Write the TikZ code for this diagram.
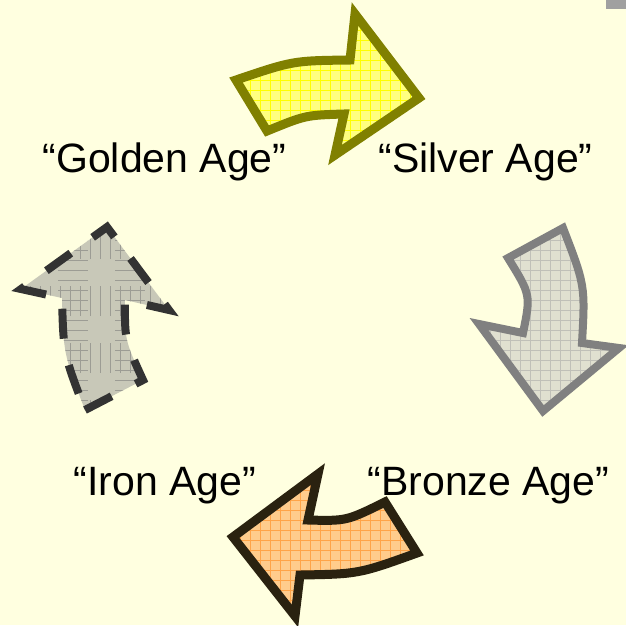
\documentclass[tikz,border=0pt]{standalone}
\usepackage{fontspec}
\setmainfont{Liberation Sans}
\definecolor{bgc}{HTML}{FFFFE0}
\definecolor{yfill}{HTML}{FFFF80}
\definecolor{ygrid}{HTML}{FFFF00}
\definecolor{ystroke}{HTML}{808000}
\definecolor{gfill}{HTML}{E0E0D0}
\definecolor{ggrid}{HTML}{C0C0B8}
\definecolor{gstroke}{HTML}{808080}
\definecolor{ofill}{HTML}{FFCC8C}
\definecolor{ogrid}{HTML}{FFA448}
\definecolor{ostroke}{HTML}{2A2210}
\definecolor{dfill}{HTML}{C8C8B8}
\definecolor{dgrid}{HTML}{9C9C94}
\definecolor{dstroke}{HTML}{333333}
\definecolor{corner}{HTML}{A0A0A0}
\tikzset{
  lbl/.style={font=\fontsize{41}{48}\selectfont, inner sep=0pt, anchor=base, text=black},
  cyclearrow/.style={line width=9pt, line join=miter, miter limit=10},
  gridfill/.style={path picture={\draw[line width=0.8pt,#1]
      ([shift={(-20pt,-20pt)}]path picture bounding box.south west) grid[step=10pt]
      ([shift={(20pt,20pt)}]path picture bounding box.north east);}}
}
\begin{document}
\begin{tikzpicture}[x=1pt,y=-1pt]
\useasboundingbox[fill=bgc] (0,0) rectangle (626,625);
\fill[corner] (606,0) rectangle (626,9);
% yellow arrow
\path[cyclearrow, fill=yfill, draw=ystroke, gridfill=ygrid]
  (236,80) .. controls (293,60.7) .. (350,60) -- (355,14) -- (419,98) -- (335,155)
  -- (344,114) .. controls (305.5,115.2) .. (267,131) -- cycle;
% gray arrow
\path[cyclearrow, line width=8pt, fill=gfill, draw=gstroke, gridfill=ggrid]
  (563,228) .. controls (585.2,285.5) .. (582,343) -- (619,348) -- (543,411) -- (479,324)
  -- (523,333) .. controls (530.8,294.8) .. (508,258) -- cycle;
% orange arrow
\path[cyclearrow, fill=ofill, draw=ostroke, gridfill=ogrid]
  (385,502) .. controls (346.5,521) .. (308,520) -- (318,474) -- (233,537) -- (295,616)
  -- (300,575) .. controls (358.5,574) .. (417,553) -- cycle;
% dashed arrow
\path[cyclearrow, line width=8pt, fill=dfill, draw=dstroke, dash pattern=on 30pt off 27pt, gridfill=dgrid]
  (85,410) -- (143,380) .. controls (124.7,340) .. (125,300) -- (169,310) -- (107,227)
  -- (21,289) -- (62,298) .. controls (63.5,354) .. (85,410) -- cycle;
% labels
\node[lbl] (golden) at (164.5,172) {“Golden Age”};
\node[lbl] (silver) at (485.5,172) {“Silver Age”};
\node[lbl] (iron) at (165,495) {“Iron Age”};
\node[lbl] (bronze) at (488.5,495) {“Bronze Age”};
\end{tikzpicture}
\end{document}
